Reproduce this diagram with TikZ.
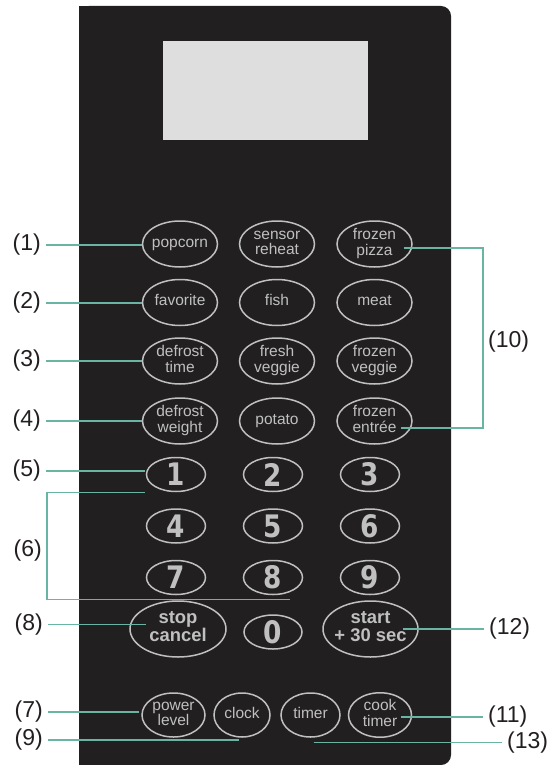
\documentclass[tikz,border=0pt]{standalone}
\usepackage{fontspec}
\setmainfont{Liberation Sans}
\newfontfamily\keydigits[FakeStretch=0.85]{DejaVu Sans}
\usepackage{tikz}
\usetikzlibrary{shapes.geometric}
\definecolor{panelgray}{HTML}{211F20}
\definecolor{screengray}{HTML}{DEDEDE}
\definecolor{keygray}{HTML}{C0C0C0}
\definecolor{leadteal}{HTML}{6AB4A4}
\definecolor{labelblack}{HTML}{231F20}
\newcommand{\keytext}[1]{\makebox[0pt]{\begin{tabular}{@{}c@{}}#1\end{tabular}}}

\begin{document}
\begin{tikzpicture}[x=1pt,y=-1pt,
        key/.style={ellipse,draw=keygray,line width=1.5pt,text=keygray,inner sep=0pt,
            minimum width=75pt,minimum height=46pt,font=\fontsize{15.5}{15}\selectfont},
        numkey/.style={key,minimum width=59pt,minimum height=34pt,
            font=\keydigits\bfseries\fontsize{31}{31}\selectfont},
        bigkey/.style={key,minimum width=96pt,minimum height=56pt,
            font=\bfseries\fontsize{18.4}{16.7}\selectfont},
        lowkey/.style={key,minimum height=44pt},
        callout/.style={font=\fontsize{23}{24}\selectfont,text=labelblack,inner xsep=5pt,inner ysep=0pt},
        lead/.style={draw=leadteal,line width=1.3pt}]
        \useasboundingbox (0,0) rectangle (550,765);
        \fill[panelgray,rounded corners=10pt] (79,6) rectangle (451,765);
        \fill[panelgray] (79,6) rectangle (100,30);
        \fill[panelgray] (79,740) rectangle (100,765);
        \fill[screengray] (163,41) rectangle (368,140);

        \node[key] (popcorn) at (180,244) {\keytext{popcorn}};
        \node[key] (reheat) at (277,244) {\keytext{sensor\\reheat}};
        \node[key] (pizza) at (374.5,244) {\keytext{frozen\\pizza}};
        \node[key] (favorite) at (180,302.5) {\keytext{favorite}};
        \node[key] (fish) at (277,302.5) {\keytext{fish}};
        \node[key] (meat) at (374.5,302.5) {\keytext{meat}};
        \node[key] (deftime) at (180,361) {\keytext{defrost\\time}};
        \node[key] (fresh) at (277,361) {\keytext{fresh\\veggie}};
        \node[key] (frozveg) at (374.5,361) {\keytext{frozen\\veggie}};
        \node[key] (defweight) at (180,421) {\keytext{defrost\\weight}};
        \node[key] (potato) at (277,421) {\keytext{potato}};
        \node[key] (entree) at (374.5,421) {\keytext{frozen\\entrée}};

        \node[numkey] (k1) at (176,474.5) {1};
        \node[numkey] (k2) at (273,474.5) {2};
        \node[numkey] (k3) at (370,474.5) {3};
        \node[numkey] (k4) at (176,526) {4};
        \node[numkey] (k5) at (273,526) {5};
        \node[numkey] (k6) at (370,526) {6};
        \node[numkey] (k7) at (176,577.5) {7};
        \node[numkey] (k8) at (273,577.5) {8};
        \node[numkey] (k9) at (370,577.5) {9};
        \node[numkey,minimum width=58pt] (k0) at (273,632) {0};
        \node[bigkey] (stop) at (178,629) {\keytext{stop\\cancel}};
        \node[bigkey,minimum width=95pt] (start) at (370.5,629) {\keytext{start\\+ 30 sec}};

        \node[lowkey,minimum width=63pt] (power) at (173.5,715) {\keytext{power\\level}};
        \node[lowkey,minimum width=56pt] (clock) at (242,715) {\keytext{clock}};
        \node[lowkey,minimum width=59pt] (timer) at (310.5,715) {\keytext{timer}};
        \node[lowkey,minimum width=63pt] (cooktimer) at (380,715) {\keytext{cook\\timer}};

        \node[callout,anchor=east] (l1) at (46,245) {(1)};
        \node[callout,anchor=east] (l2) at (46,303) {(2)};
        \node[callout,anchor=east] (l3) at (46,361) {(3)};
        \node[callout,anchor=east] (l4) at (46,421) {(4)};
        \node[callout,anchor=east] (l5) at (46,471) {(5)};
        \node[callout,anchor=east] (l6) at (47,551) {(6)};
        \node[callout,anchor=east] (l8) at (48,624.5) {(8)};
        \node[callout,anchor=east] (l7) at (48,712) {(7)};
        \node[callout,anchor=east] (l9) at (48,740) {(9)};
        \node[callout,anchor=west] (l10) at (483,342) {(10)};
        \node[callout,anchor=west] (l12) at (484,629) {(12)};
        \node[callout,anchor=west] (l11) at (483,717) {(11)};
        \node[callout,anchor=west] (l13) at (502,742.5) {(13)};

        \draw[lead] (l1.east) -- (popcorn.west |- l1.east);
        \draw[lead] (l2.east) -- (favorite.west |- l2.east);
        \draw[lead] (l3.east) -- (deftime.west |- l3.east);
        \draw[lead] (l4.east) -- (defweight.west |- l4.east);
        \draw[lead] (l5.east) -- ([xshift=-1pt]k1.west |- l5.east);
        \draw[lead] ([xshift=-1pt]k1.west |- k1.south) -| (l6.east) |- ([xshift=17pt,yshift=-4pt]k8.south);
        \draw[lead] (l8.east) -- ([xshift=17pt]stop.west |- l8.east);
        \draw[lead] (l7.east) -- ([xshift=-2pt]power.west |- l7.east);
        \draw[lead] (l9.east) -- ([xshift=-3pt]clock.south |- l9.east);
        \draw[lead] ([xshift=-8.5pt,yshift=-4pt]pizza.east) -| (l10.west) |- ([xshift=-12pt,yshift=-7pt]entree.east);
        \draw[lead] ([xshift=-15.5pt]start.east |- l12.west) -- (l12.west);
        \draw[lead] ([xshift=-11pt]cooktimer.east |- l11.west) -- (l11.west);
        \draw[lead] ([xshift=3pt]timer.south |- l13.west) -- (l13.west);
    \end{tikzpicture}
\end{document}
